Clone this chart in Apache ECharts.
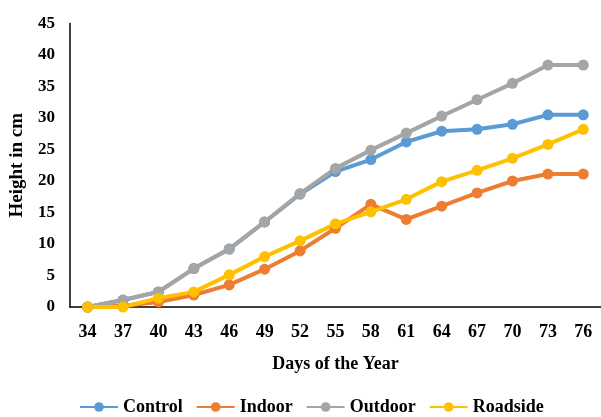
<!DOCTYPE html>
<html>
<head>
<meta charset="utf-8">
<script src="https://cdn.jsdelivr.net/npm/echarts@6/dist/echarts.min.js"></script>
<style>
  html, body { margin: 0; padding: 0; background: #fff; }
  #chart { width: 601px; height: 417px; }
</style>
</head>
<body>
<div id="chart"></div>
<script>
// Plant height measured over the days of the year
const days = ['34', '37', '40', '43', '46', '49', '52', '55', '58', '61', '64', '67', '70', '73', '76'];
const control  = [0, 1.1, 2.4, 6.1, 9.2, 13.5, 17.9, 21.5, 23.4, 26.2, 27.9, 28.2, 29.0, 30.5, 30.5];
const indoor   = [0, 0.2, 0.8, 1.9, 3.5, 6.0, 8.9, 12.5, 16.3, 13.9, 16.0, 18.1, 20.0, 21.1, 21.1];
const outdoor  = [0, 1.1, 2.4, 6.1, 9.2, 13.5, 18.0, 22.0, 24.9, 27.6, 30.3, 32.9, 35.5, 38.4, 38.4];
const roadside = [0, 0, 1.4, 2.4, 5.1, 8.0, 10.5, 13.2, 15.1, 17.1, 19.9, 21.7, 23.6, 25.8, 28.2];

const seriesNames = ['Control', 'Indoor', 'Outdoor', 'Roadside'];
const seriesData = [control, indoor, outdoor, roadside];
const colors = ['#5B9BD5', '#ED7D31', '#A5A5A5', '#FFC000'];

const font = '"Liberation Serif", "Times New Roman", serif';

const chart = echarts.init(document.getElementById('chart'), null, { renderer: 'canvas' });

chart.setOption({
  animation: false,
  backgroundColor: '#fff',
  color: colors,
  grid: { left: 69, top: 23.5, width: 540, bottom: 110, containLabel: false },
  legend: {
    data: seriesNames,
    left: 74,
    top: 393,
    itemWidth: 38,
    itemHeight: 12,
    itemGap: 13,
    textStyle: { fontFamily: font, fontWeight: 'bold', fontSize: 18, color: '#000' }
  },
  xAxis: {
    type: 'category',
    data: days,
    boundaryGap: true,
    name: 'Days of the Year',
    nameLocation: 'middle',
    nameGap: 48,
    nameTextStyle: { fontFamily: font, fontWeight: 'bold', fontSize: 18, color: '#000' },
    axisLine: { lineStyle: { color: '#000', width: 1.5 } },
    axisTick: { show: false },
    axisLabel: { fontFamily: font, fontWeight: 'bold', fontSize: 18, color: '#000', margin: 16 },
    splitLine: { show: false }
  },
  yAxis: {
    type: 'value',
    min: 0,
    max: 45,
    interval: 5,
    name: 'Height in cm',
    nameLocation: 'middle',
    nameGap: 37,
    nameTextStyle: { fontFamily: font, fontWeight: 'bold', fontSize: 19, color: '#000' },
    axisLine: { show: true, lineStyle: { color: '#000', width: 1.5 } },
    axisTick: { show: false },
    axisLabel: { fontFamily: font, fontWeight: 'bold', fontSize: 17, color: '#000', margin: 15 },
    splitLine: { show: false }
  },
  series: seriesNames.map((name, i) => ({
    name: name,
    type: 'line',
    data: seriesData[i],
    symbol: 'circle',
    symbolSize: 11,
    lineStyle: { width: 4, color: colors[i] },
    itemStyle: { color: colors[i] }
  }))
});
</script>
</body>
</html>
